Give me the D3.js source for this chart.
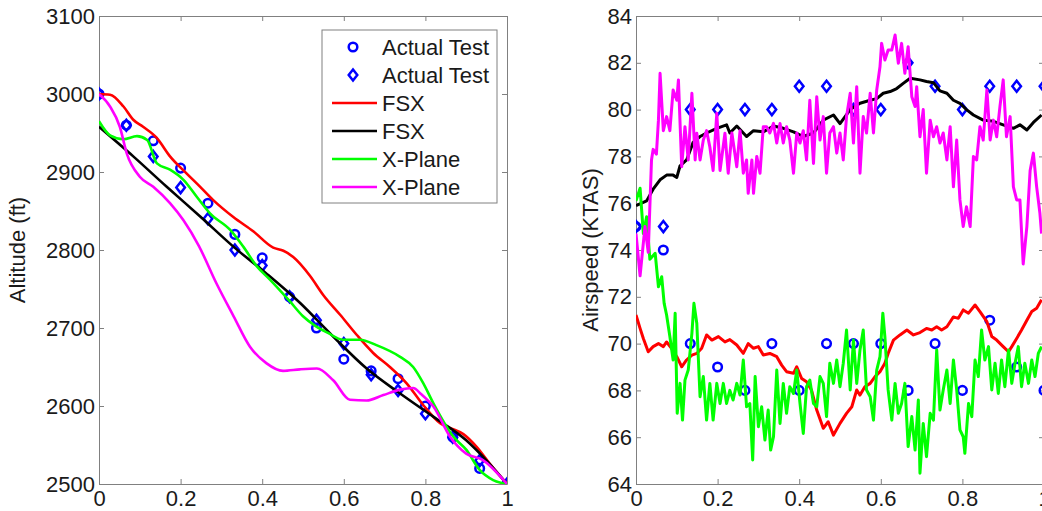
<!DOCTYPE html>
<html>
<head>
<meta charset="utf-8">
<script src="https://cdn.jsdelivr.net/npm/d3@7"></script>
<style>
  body { margin: 0; background: #fff; }
  text { font-family: "Liberation Sans", Arial, sans-serif; fill: #1a1a1a; }
</style>
</head>
<body>
<div id="vis"></div>
<script>
// ---- data ----
// test points, same x for every panel
var testX = [0, 0.067, 0.133, 0.2, 0.267, 0.333, 0.4, 0.467, 0.533, 0.6, 0.667, 0.733, 0.8, 0.867, 0.933, 1];
var altCircle = [3000, 2960, 2940, 2905, 2860, 2820, 2790, 2740, 2700, 2660, 2645, 2635, 2600, 2560, 2520, 2500];
var altDiamond = [3000, 2960, 2920, 2880, 2840, 2800, 2780, 2740, 2710, 2680, 2640, 2620, 2590, 2560, 2530, 2500];
var spdCircle = [75, 74, 70, 69, 68, 70, 68, 70, 70, 70, 68, 70, 68, 71, 69, 68];
var spdDiamond = [75, 75, 80, 80, 80, 80, 81, 81, 80, 80, 82, 81, 80, 81, 81, 81];

// altitude lines
var altRedX = [0, .027, .06, .084, .108, .141, .174, .215, .248, .28, .33, .378, .427, .452, .476, .517, .55, .591, .632, .672, .713, .754, .795, .836, .86, .893, .925, .958, 1];
var altRedY = [3000, 2999, 2984, 2967, 2958, 2944, 2920, 2898, 2881, 2864, 2842, 2824, 2803, 2799, 2791, 2767, 2742, 2717, 2691, 2668, 2650, 2629, 2601, 2578, 2572, 2564, 2548, 2526, 2500];
var altBlackX = [0, .084, .166, .248, .33, .41, .493, .574, .656, .738, .82, .9, .95, 1];
var altBlackY = [2958, 2920, 2881, 2843, 2804, 2770, 2732, 2689, 2648, 2616, 2586, 2556, 2530, 2500];
var altGreenX = [0, .027, .06, .093, .118, .142, .174, .207, .24, .272, .321, .354, .387, .419, .468, .5, .532, .56, .598, .64, .68, .738, .77, .795, .82, .868, .9, .933, .966, 1];
var altGreenY = [2965, 2947, 2942, 2946, 2941, 2911, 2903, 2890, 2868, 2847, 2826, 2804, 2779, 2762, 2734, 2715, 2702, 2694, 2685, 2685, 2678, 2663, 2650, 2629, 2603, 2561, 2544, 2518, 2505, 2500];
var altMagX = [0, .027, .051, .068, .1, .133, .174, .207, .245, .288, .33, .37, .41, .451, .493, .534, .574, .615, .656, .697, .738, .77, .79, .82, .86, .9, .94, 1];
var altMagY = [3000, 2984, 2958, 2924, 2894, 2881, 2860, 2838, 2805, 2757, 2715, 2676, 2655, 2645, 2647, 2648, 2633, 2608, 2607, 2614, 2621, 2623, 2615, 2599, 2561, 2539, 2531, 2500];

// airspeed lines
var spdBlackX = [0, .026, .042, .059, .075, .091, .1, .108, .124, .14, .157, .173, .198, .222, .23, .247, .271, .288, .312, .337, .361, .386, .41, .435, .459, .484, .5, .525, .549, .574, .59, .606, .623, .639, .655, .672, .696, .712, .729, .745, .762, .778, .794, .81, .827, .851, .876, .9, .925, .941, .958, .974, .994];
var spdBlackY = [75.9, 76.1, 76.6, 77.0, 77.2, 77.2, 77.1, 77.6, 77.85, 78.6, 78.85, 79.0, 79.2, 79.35, 79.0, 79.3, 78.85, 79.1, 79.05, 79.3, 79.2, 79.05, 78.85, 79.0, 79.55, 79.77, 79.4, 80.0, 80.27, 80.4, 80.47, 80.7, 80.77, 80.9, 81.12, 81.34, 81.27, 81.2, 81.15, 80.8, 80.7, 80.4, 80.27, 80.0, 79.77, 79.55, 79.5, 79.35, 79.2, 79.35, 79.13, 79.45, 79.77];
var spdMagX = [0, .01, .022, .03, .038, .042, .05, .055, .059, .067, .075, .083, .091, .1, .104, .112, .12, .128, .137, .145, .149, .157, .165, .173, .181, .189, .198, .206, .218, .226, .235, .247, .255, .263, .271, .275, .284, .288, .296, .304, .312, .32, .328, .337, .345, .353, .361, .369, .377, .386, .394, .402, .41, .418, .426, .435, .443, .451, .459, .467, .475, .484, .492, .5, .508, .516, .525, .533, .541, .549, .557, .565, .574, .582, .59, .598, .602, .61, .618, .627, .635, .643, .651, .659, .667, .676, .684, .688, .696, .704, .712, .721, .729, .737, .745, .753, .762, .77, .778, .786, .794, .802, .81, .819, .827, .835, .843, .851, .86, .868, .876, .884, .892, .9, .908, .917, .925, .933, .941, .949, .958, .966, .974, .982, .99, .994];
var spdMagY = [74.7, 72.9, 75.0, 73.9, 77.85, 78.3, 78.1, 79.55, 81.55, 79.1, 79.7, 79.1, 80.84, 80.4, 81.27, 77.56, 79.27, 77.85, 80.7, 77.85, 78.99, 77.85, 78.7, 79.1, 78.4, 77.4, 79.84, 77.4, 78.99, 77.28, 79.0, 77.56, 79.1, 77.28, 77.85, 76.42, 77.85, 76.42, 78.0, 77.28, 79.27, 79.27, 79.0, 79.41, 78.57, 79.41, 78.57, 79.27, 78.7, 77.28, 79.0, 78.57, 79.1, 77.85, 80.4, 77.7, 80.55, 78.7, 79.7, 77.28, 79.0, 79.27, 78.14, 79.0, 77.85, 79.7, 80.7, 78.57, 80.98, 77.28, 79.7, 79.0, 80.7, 79.0, 80.84, 81.83, 82.83, 82.12, 82.55, 82.55, 83.19, 81.98, 82.83, 81.55, 82.69, 80.55, 80.13, 80.98, 78.84, 80.0, 77.28, 79.55, 78.84, 79.27, 78.57, 79.0, 77.85, 79.27, 76.7, 78.7, 76.14, 75.0, 75.85, 75.0, 78.0, 77.85, 79.27, 78.7, 80.84, 78.7, 79.55, 78.84, 80.13, 81.27, 78.84, 79.7, 76.7, 76.14, 76.14, 73.4, 75.0, 77.4, 78.14, 76.7, 75.57, 74.7];
var spdRedX = [0, .01, .018, .03, .042, .055, .067, .075, .087, .1, .112, .124, .137, .149, .161, .173, .186, .202, .218, .23, .247, .263, .275, .288, .3, .312, .328, .345, .357, .369, .386, .394, .406, .418, .43, .443, .459, .471, .484, .5, .516, .529, .541, .549, .561, .574, .586, .598, .61, .618, .631, .647, .664, .68, .696, .712, .725, .737, .749, .762, .778, .79, .802, .815, .831, .843, .86, .872, .884, .9, .913, .921, .933, .945, .958, .97, .982, .994];
var spdRedY = [71.22, 70.65, 70.22, 69.65, 69.87, 70.0, 69.87, 70.07, 69.8, 69.44, 69.01, 69.3, 69.51, 69.58, 69.8, 70.37, 70.15, 70.3, 70.07, 70.17, 69.94, 69.58, 70.0, 69.8, 69.87, 69.51, 69.58, 69.44, 69.08, 68.8, 68.73, 69.01, 68.51, 68.37, 68.02, 67.16, 66.38, 66.66, 66.09, 66.59, 67.02, 67.3, 68.02, 67.8, 68.16, 68.3, 68.59, 68.8, 69.16, 69.58, 70.15, 70.37, 70.58, 70.37, 70.47, 70.65, 70.58, 70.72, 70.58, 70.72, 71.14, 71.08, 71.44, 71.3, 71.65, 71.37, 70.94, 70.3, 70.15, 69.87, 69.65, 69.87, 70.22, 70.58, 71.0, 71.37, 71.51, 71.87];
var spdGreenX = [0, .01, .018, .026, .034, .047, .055, .063, .069, .075, .083, .091, .096, .101, .108, .114, .12, .128, .137, .142, .149, .157, .165, .173, .181, .189, .198, .206, .214, .222, .23, .238, .247, .255, .263, .271, .279, .286, .292, .3, .308, .316, .324, .33, .337, .345, .353, .361, .369, .377, .386, .394, .402, .41, .418, .426, .435, .443, .451, .459, .467, .475, .484, .492, .5, .508, .516, .525, .533, .541, .549, .557, .565, .574, .582, .59, .598, .605, .61, .618, .627, .635, .643, .651, .659, .667, .676, .684, .692, .696, .704, .712, .721, .729, .737, .745, .753, .762, .77, .778, .786, .794, .802, .806, .815, .823, .831, .839, .847, .855, .864, .872, .88, .888, .896, .904, .913, .921, .929, .937, .945, .953, .962, .97, .978, .986, .994];
var spdGreenY = [76.1, 76.64, 74.7, 75.42, 73.6, 73.86, 72.43, 72.86, 71.72, 71.22, 70.3, 69.3, 71.3, 67.02, 68.3, 66.73, 68.44, 68.87, 70.44, 71.72, 70.87, 67.73, 68.59, 66.73, 68.3, 66.73, 68.3, 67.44, 68.3, 67.44, 68.0, 67.59, 68.3, 67.8, 69.3, 67.3, 67.44, 65.03, 68.59, 66.45, 67.3, 65.88, 67.16, 65.45, 66.02, 68.87, 66.59, 68.3, 67.02, 68.16, 67.87, 68.87, 67.44, 66.16, 68.16, 68.44, 67.44, 67.3, 68.59, 68.3, 66.88, 69.16, 68.3, 69.3, 68.16, 69.16, 70.58, 68.02, 70.15, 68.3, 69.73, 70.58, 68.02, 67.73, 66.73, 68.87, 69.44, 71.3, 70.3, 68.02, 66.73, 68.3, 67.02, 67.44, 68.3, 65.6, 66.88, 65.45, 67.59, 64.46, 66.59, 65.17, 67.02, 66.73, 69.73, 67.16, 68.02, 68.87, 67.44, 69.3, 68.02, 66.31, 66.02, 65.31, 67.44, 66.88, 69.3, 68.59, 70.58, 69.3, 69.87, 68.02, 69.16, 67.87, 69.3, 68.16, 69.73, 68.3, 69.16, 69.87, 68.16, 69.16, 68.3, 69.3, 68.59, 69.58, 69.87];

var xTicks = [0, 0.2, 0.4, 0.6, 0.8, 1];
var altTicks = [2500, 2600, 2700, 2800, 2900, 3000, 3100];
var spdTicks = [64, 66, 68, 70, 72, 74, 76, 78, 80, 82, 84];
var legendNames = ["Actual Test", "Actual Test", "FSX", "FSX", "X-Plane", "X-Plane"];
var legendKinds = ["circle", "diamond", "line", "line", "line", "line"];
var lineColors = ["#ff0000", "#000000", "#00ff00", "#ff00ff"];
var markerColor = "#0000ff";

// ---- drawing ----
var svg = d3.select("#vis").append("svg").attr("width", 1042).attr("height", 511);
var plotTop = 16, plotBottom = 484, plotW = 408;
var fontPx = 22;

function zip(xs, ys){ return xs.map((v, i) => [v, ys[i]]); }

// circle and diamond test markers, matlab style
function drawMarker(sel, kind, cx, cy){
    if(kind == "circle"){
        sel.append("circle").attr("cx", cx).attr("cy", cy).attr("r", 4.3)
            .attr("fill", "none").attr("stroke", markerColor).attr("stroke-width", 2.5);
    }else{
        sel.append("path").attr("d", "M0,-5.5L4.3,0L0,5.5L-4.3,0Z").attr("transform", "translate(" + cx + "," + cy + ")")
            .attr("fill", "none").attr("stroke", markerColor).attr("stroke-width", 2.5);
    }
}

function panel(opts){
    var x = d3.scaleLinear().domain([0, 1]).range([opts.left, opts.left + plotW]);
    var y = d3.scaleLinear().domain(opts.yDomain).range([plotBottom, plotTop]);
    var g = svg.append("g");
    var clipId = "clip" + opts.left;
    svg.append("clipPath").attr("id", clipId).append("rect")
        .attr("x", opts.left).attr("y", plotTop).attr("width", plotW).attr("height", plotBottom - plotTop);

    // frame and inward ticks on all four sides
    g.append("g").attr("transform", "translate(0," + plotBottom + ")")
        .call(d3.axisBottom(x).tickValues(xTicks).tickSize(-5).tickSizeOuter(0).tickPadding(6).tickFormat(d3.format("")));
    g.append("g").attr("transform", "translate(0," + plotTop + ")")
        .call(d3.axisTop(x).tickValues(xTicks).tickSize(-5).tickSizeOuter(0).tickFormat(""));
    g.append("g").attr("transform", "translate(" + opts.left + ",0)")
        .call(d3.axisLeft(y).tickValues(opts.yTicks).tickSize(-5).tickSizeOuter(0).tickPadding(4).tickFormat(d3.format("d")));
    g.append("g").attr("transform", "translate(" + (opts.left + plotW) + ",0)")
        .call(d3.axisRight(y).tickValues(opts.yTicks).tickSize(-5).tickSizeOuter(0).tickFormat(""));
    g.selectAll(".domain, .tick line").attr("stroke", "#808080");
    g.selectAll(".tick text").attr("font-size", fontPx).attr("fill", "#1a1a1a")
        .attr("font-family", "Liberation Sans, Arial, sans-serif");

    // y label
    g.append("text").text(opts.label)
        .attr("transform", "translate(" + opts.labelX + "," + ((plotTop + plotBottom) / 2) + ") rotate(-90)")
        .attr("text-anchor", "middle").attr("dy", "0.35em").attr("font-size", fontPx);

    var plot = g.append("g").attr("clip-path", "url(#" + clipId + ")");
    // test markers first, lines over them
    testX.forEach(function(t, i){
        drawMarker(plot, "circle", x(t), y(opts.circles[i]));
        drawMarker(plot, "diamond", x(t), y(opts.diamonds[i]));
    });

    var line = d3.line().x(d => x(d[0])).y(d => y(d[1])).curve(opts.curve);
    opts.lines.forEach(function(s, i){
        plot.append("path").datum(zip(s[0], s[1]))
            .attr("d", line).attr("fill", "none")
            .attr("stroke", lineColors[i]).attr("stroke-width", opts.lineWidth)
            .attr("stroke-linejoin", "round");
    });
}

panel({left: 99, yDomain: [2500, 3100], yTicks: altTicks, label: "Altitude (ft)", labelX: 17,
    circles: altCircle, diamonds: altDiamond, curve: d3.curveMonotoneX, lineWidth: 2.6,
    lines: [[altRedX, altRedY], [altBlackX, altBlackY], [altGreenX, altGreenY], [altMagX, altMagY]]});
panel({left: 636, yDomain: [64, 84], yTicks: spdTicks, label: "Airspeed (KTAS)", labelX: 590,
    circles: spdCircle, diamonds: spdDiamond, curve: d3.curveLinear, lineWidth: 3,
    lines: [[spdRedX, spdRedY], [spdBlackX, spdBlackY], [spdGreenX, spdGreenY], [spdMagX, spdMagY]]});

// legend (left panel)
var leg = svg.append("g");
leg.append("rect").attr("x", 322).attr("y", 30).attr("width", 175).attr("height", 173)
    .attr("fill", "#fff").attr("stroke", "#808080");
var li = 0;
legendNames.forEach(function(name, i){
    var cy = 47 + i * 28;
    if(legendKinds[i] == "line"){
        leg.append("line").attr("x1", 332).attr("x2", 377).attr("y1", cy).attr("y2", cy)
            .attr("stroke", lineColors[li++]).attr("stroke-width", 2.6);
    }else{
        drawMarker(leg, legendKinds[i], 353, cy);
    }
    leg.append("text").text(name).attr("x", 382).attr("y", cy).attr("dy", "0.36em").attr("font-size", fontPx);
});
</script>
</body>
</html>
